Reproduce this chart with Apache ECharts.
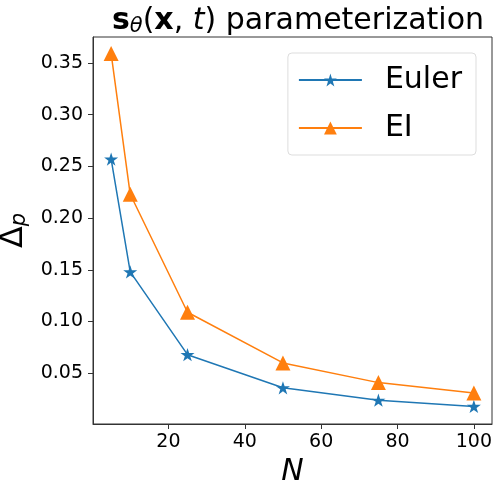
<!DOCTYPE html>
<html><head><meta charset="utf-8">
<script src="https://cdn.jsdelivr.net/npm/echarts@6/dist/echarts.min.js"></script>
<style>html,body{margin:0;padding:0;background:#fff}#c{width:500px;height:490px}</style>
</head><body><div id="c"></div>
<script>
const N = [5, 10, 25, 50, 75, 100];
const euler = [0.257, 0.148, 0.068, 0.036, 0.024, 0.018];
const ei = [0.359, 0.223, 0.109, 0.060, 0.041, 0.031];
const xTicks = [20, 40, 60, 80, 100];
const yTicks = [0.05, 0.10, 0.15, 0.20, 0.25, 0.30, 0.35];

const star = 'path://M0,-1L0.2245,-0.309L0.951,-0.309L0.3633,0.118L0.5878,0.809L0,0.382L-0.5878,0.809L-0.3633,0.118L-0.951,-0.309L-0.2245,-0.309Z';
const F = 'DejaVu Sans';
const chart = echarts.init(document.getElementById('c'), null, {renderer: 'canvas'});
chart.setOption({
  animation: false,
  backgroundColor: '#fff',
  grid: {left: 93, right: 8, top: 37, bottom: 66, show: true, borderColor: '#333', borderWidth: 1,
         containLabel: false, outerBoundsMode: 'none'},
  title: {
    text: '{b|s}{sub|θ}{n|(}{b|x}{n|, }{i|t}{n|) parameterization}',
    left: 293, textAlign: 'center', top: 0,
    textStyle: {
      fontWeight: 'normal',
      rich: {
        b: {fontFamily: F, fontSize: 30, fontWeight: 'bold', color: '#000'},
        n: {fontFamily: F, fontSize: 30, fontWeight: 'normal', color: '#000'},
        i: {fontFamily: F, fontSize: 30, fontWeight: 'normal', fontStyle: 'italic', color: '#000'},
        sub: {fontFamily: F, fontSize: 21, fontWeight: 'normal', fontStyle: 'italic', color: '#000', verticalAlign: 'bottom', padding: [11, 0, 0, 0]}
      }
    }
  },
  legend: {
    right: 24, top: 53, orient: 'vertical',
    itemWidth: 63, itemHeight: 16, itemGap: 18,
    padding: [12, 14, 12, 10],
    borderColor: '#ddd', borderWidth: 1, borderRadius: 4,
    textStyle: {fontFamily: F, fontSize: 30, color: '#000', padding: [0, 0, 0, 18]},
    data: ['Euler', 'EI']
  },
  xAxis: {
    type: 'value', min: 0.25, max: 104.75,
    name: 'N', nameLocation: 'middle', nameGap: 33,
    nameTextStyle: {fontFamily: F, fontSize: 30, fontStyle: 'italic', color: '#000', verticalAlign: 'top'},
    axisLine: {show: true, onZero: false, lineStyle: {color: '#333', width: 1}},
    axisTick: {show: true, length: 5, customValues: xTicks, lineStyle: {color: '#333'}},
    axisLabel: {customValues: xTicks, fontFamily: F, fontSize: 19, color: '#000', margin: 9},
    splitLine: {show: false}
  },
  yAxis: {
    type: 'value', min: 0.001, max: 0.375,
    name: '{d|Δ}{p|p}', nameLocation: 'middle', nameGap: 56, nameRotate: 90,
    nameTextStyle: {rich: {
      d: {fontFamily: F, fontSize: 32, color: '#000'},
      p: {fontFamily: F, fontSize: 21, fontStyle: 'italic', color: '#000', verticalAlign: 'bottom', padding: [12, 0, 0, 0]}
    }},
    axisLine: {show: true, onZero: false, lineStyle: {color: '#333', width: 1}},
    axisTick: {show: true, length: 5, customValues: yTicks, lineStyle: {color: '#333'}},
    axisLabel: {customValues: yTicks, fontFamily: F, fontSize: 19, color: '#000', margin: 10,
      formatter: v => v.toFixed(2)},
    splitLine: {show: false}
  },
  series: [
    {name: 'Euler', type: 'line', data: N.map((x, i) => [x, euler[i]]),
     color: '#1f77b4', symbol: star, symbolSize: 14, symbolKeepAspect: true,
     lineStyle: {width: 1.5}, itemStyle: {color: '#1f77b4'}},
    {name: 'EI', type: 'line', data: N.map((x, i) => [x, ei[i]]),
     color: '#ff7f0e', symbol: 'triangle', symbolSize: 15,
     lineStyle: {width: 1.5}, itemStyle: {color: '#ff7f0e'}}
  ]
});
</script></body></html>
